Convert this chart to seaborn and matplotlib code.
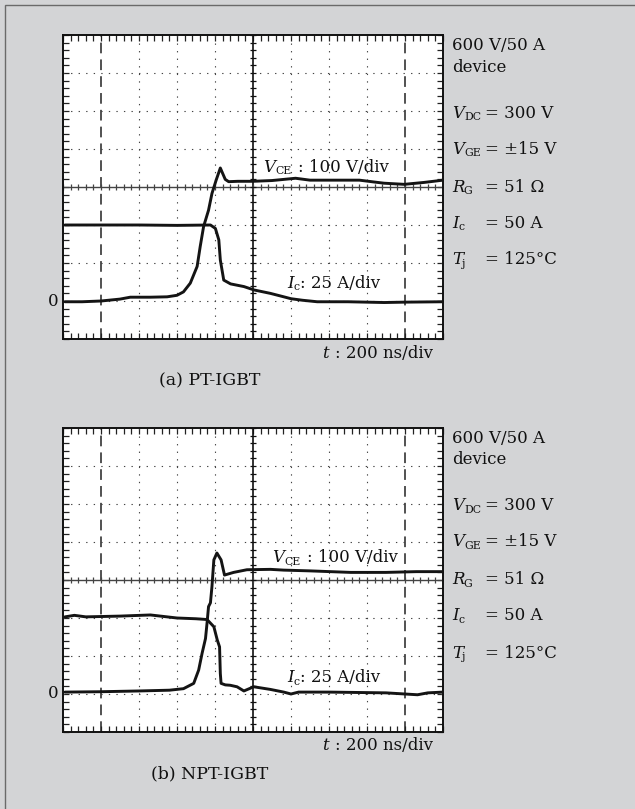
import numpy as np
import pandas as pd
import matplotlib
matplotlib.use("Agg")
import matplotlib.pyplot as plt
import seaborn as sns
from matplotlib.patches import Rectangle

# ---------------- data ----------------
# (a) PT-IGBT
a_vce_t = [10, 100, 200, 300, 354, 460, 548, 600, 634, 670, 706, 722, 740, 766, 784,
           806, 828, 854, 872, 920, 1000, 1100, 1224, 1300, 1400, 1560, 1640, 1690,
           1796, 1900, 2000]
a_vce_v = [-2, -2, 0, 5, 10, 10, 11, 15, 24, 47, 91, 143, 196, 239, 283,
           318, 350, 320, 314, 315, 315, 317, 323, 318, 318, 318, 313, 310,
           307, 312, 318]
a_ic_t = [10, 200, 400, 600, 776, 802, 820, 828, 846, 882, 952, 1006, 1092, 1162,
          1200, 1260, 1338, 1500, 1690, 1800, 2000]
a_ic_a = [50, 50, 50, 49.75, 50, 47.75, 40.25, 27, 13.75, 11.25, 9.5, 7.25, 5, 2.75,
          1.5, 0.5, -0.5, -0.5, -1, -0.75, -0.5]

# (b) NPT-IGBT
b_vce_t = [10, 200, 400, 560, 634, 688, 714, 732, 750, 758, 766, 776, 784, 794, 810,
           832, 850, 898, 968, 1092, 1162, 1300, 1514, 1700, 1860, 2000]
b_vce_v = [5, 6, 8, 10, 14, 28, 63, 107, 146, 186, 230, 240, 283, 353, 371,
           353, 313, 320, 327, 328, 326, 324, 320, 320, 322, 322]
b_ic_t = [10, 60, 120, 300, 460, 600, 700, 758, 794, 812, 824, 828, 832, 854, 880,
          916, 952, 1004, 1092, 1162, 1200, 1240, 1400, 1700, 1866, 1920, 2000]
b_ic_a = [50.75, 51.75, 50.75, 51.25, 52, 50, 49.5, 49, 44.25, 35.5, 31, 13.5, 7, 6,
          5.75, 4.75, 2, 4.75, 3, 1.25, 0, 1.25, 1.25, 0.75, -0.5, 0.75, 1.25]

panel_titles = ["(a) PT-IGBT", "(b) NPT-IGBT"]
cond_symbols = ["V", "V", "R", "I", "T"]
cond_subs = ["DC", "GE", "G", "c", "j"]
cond_values = ["= 300 V", "= ±15 V", "= 51 Ω", "= 50 A", "= 125°C"]

T_PER_DIV = 200.0
V_PER_DIV = 100.0
I_PER_DIV = 25.0
ZERO_DIV = 1.0

# ---------------- style ----------------
sns.set_theme(style="white")
plt.rcParams["font.family"] = ["DejaVu Serif", "DejaVu Sans"]
plt.rcParams["mathtext.fontset"] = "dejavuserif"
plt.rcParams["text.color"] = "#111111"

BG = "#d3d4d6"
INK = "#111111"
W, H = 635, 809
FS = 12
SUB_FS = 7.8
fig = plt.figure(figsize=(W / 100, H / 100), dpi=100, facecolor=BG)
fig.patches.append(Rectangle((5 / W, -0.01), 1.02, 1 - 5 / H + 0.01,
                             transform=fig.transFigure, fill=False,
                             edgecolor="#6a6a6a", lw=1.0))


def px_axes(left, top, right, bottom):
    return fig.add_axes([left / W, 1 - bottom / H, (right - left) / W, (bottom - top) / H])


def fig_xy(x, y):
    return x / W, 1 - y / H


def sub_label(xpx, ypx, sym, sub, sub_dx, rest=None, rest_x=None):
    """Symbol in italic with a small upright subscript, in pixel coordinates."""
    fig.text(*fig_xy(xpx, ypx), sym, fontsize=FS, style="italic", ha="left",
             va="center", color=INK)
    fig.text(*fig_xy(xpx + sub_dx, ypx + 4), sub, fontsize=SUB_FS, ha="left",
             va="center", color=INK)
    if rest is not None:
        fig.text(*fig_xy(rest_x, ypx), rest, fontsize=FS, ha="left", va="center",
                 color=INK)


panels = [
    dict(ax=px_axes(63, 35, 443, 339), top=35, bottom=339,
         vce=(a_vce_t, a_vce_v), ic=(a_ic_t, a_ic_a),
         vlab=(263, 167), ilab=(287, 283)),
    dict(ax=px_axes(63, 428, 443, 732), top=428, bottom=732,
         vce=(b_vce_t, b_vce_v), ic=(b_ic_t, b_ic_a),
         vlab=(272, 558), ilab=(287, 678)),
]

minor = np.arange(0, 10.001, 0.2)
minor_y = np.arange(0, 8.001, 0.2)

for k, p in enumerate(panels):
    ax = p["ax"]
    ax.set_facecolor("white")
    ax.set_xlim(0, 10)
    ax.set_ylim(0, 8)

    # graticule
    for xv in range(1, 10):
        if xv == 5:
            continue
        if xv in (1, 9):
            ax.axvline(xv, color="#222222", lw=1.1, ls=(0, (7, 4)), zorder=1)
        else:
            ax.axvline(xv, color="#444444", lw=0.8, ls=(0, (1.2, 5.6)), zorder=1)
    for yv in range(1, 8):
        if yv == 4:
            continue
        ax.axhline(yv, color="#444444", lw=0.8, ls=(0, (1.2, 5.6)), zorder=1)
    ax.axvline(5, color="#111111", lw=1.2, zorder=2)
    ax.axhline(4, color="#444444", lw=1.0, zorder=2)
    ax.vlines(minor, 4 - 0.09, 4 + 0.09, color="#444444", lw=0.9, zorder=2)
    ax.hlines(minor_y, 5 - 0.09, 5 + 0.09, color="#111111", lw=0.9, zorder=2)

    # traces
    df_v = pd.DataFrame({"x": np.array(p["vce"][0]) / T_PER_DIV,
                         "y": ZERO_DIV + np.array(p["vce"][1]) / V_PER_DIV})
    df_i = pd.DataFrame({"x": np.array(p["ic"][0]) / T_PER_DIV,
                         "y": ZERO_DIV + np.array(p["ic"][1]) / I_PER_DIV})
    sns.lineplot(data=df_v, x="x", y="y", ax=ax, sort=False, estimator=None,
                 color="#141414", lw=2.1, zorder=5)
    sns.lineplot(data=df_i, x="x", y="y", ax=ax, sort=False, estimator=None,
                 color="#141414", lw=2.1, zorder=5)

    for s in ax.spines.values():
        s.set_color("#111111")
        s.set_linewidth(1.4)
        s.set_visible(True)
    ax.set_xticks(minor)
    ax.set_yticks(minor_y)
    ax.tick_params(axis="both", which="both", direction="in", length=4, width=0.9,
                   color="#222222", top=True, right=True, bottom=True, left=True,
                   labelbottom=False, labelleft=False)
    ax.set_xlabel("")
    ax.set_ylabel("")

    ax.text(-0.12, ZERO_DIV, "0", ha="right", va="center", fontsize=FS,
            color=INK, clip_on=False)

    # trace labels
    vx, vy = p["vlab"]
    sub_label(vx, vy, "V", "CE", 12, ": 100 V/div", vx + 35)
    ix, iy = p["ilab"]
    sub_label(ix, iy, "I", "c", 6.5, ": 25 A/div", ix + 13)

    fig.text(*fig_xy(322, p["bottom"] + 14), "t", fontsize=FS, style="italic",
             ha="left", va="center", color=INK)
    fig.text(*fig_xy(335, p["bottom"] + 14), ": 200 ns/div", fontsize=FS,
             ha="left", va="center", color=INK)
    fig.text(*fig_xy(210, p["bottom"] + 42), panel_titles[k], fontsize=12.5,
             ha="center", va="center", color=INK)

    # conditions column
    off = p["top"] - 35
    fig.text(*fig_xy(452, 45 + off), "600 V/50 A", fontsize=FS, ha="left",
             va="center", color=INK)
    fig.text(*fig_xy(452, 67 + off), "device", fontsize=FS, ha="left",
             va="center", color=INK)
    ys = [113, 149, 187, 223, 260]
    sub_dx = [12, 12, 11.5, 6.5, 10]
    for sym, sub, dx, val, yy in zip(cond_symbols, cond_subs, sub_dx, cond_values, ys):
        sub_label(452, yy + off, sym, sub, dx, val, 485)

fig.savefig("out.png", dpi=100, facecolor=BG)
